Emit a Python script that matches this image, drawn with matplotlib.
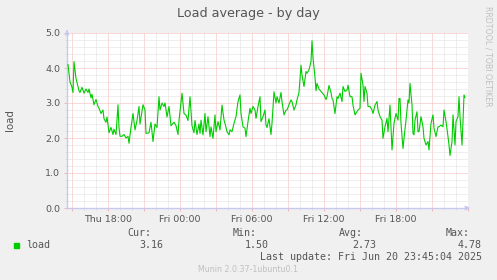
import matplotlib
matplotlib.use("Agg")
import matplotlib.pyplot as plt
import matplotlib.dates as mdates
from matplotlib.ticker import MultipleLocator, FuncFormatter
from matplotlib.patches import Rectangle
import pandas as pd

# data (minutes after Fri 00:00, load)
day_start = pd.Timestamp("2025-06-20 00:00")
minutes = [
    -560, -550, -540, -535, -530, -520, -505, -500, -490, -480,
    -470, -460, -455, -445, -440, -430, -420, -410, -405, -395,
    -385, -380, -370, -365, -355, -345, -335, -330, -320, -310,
    -305, -300, -290, -280, -270, -260, -255, -245, -235, -225,
    -215, -205, -200, -185, -175, -170, -155, -145, -135, -125,
    -115, -105, -100, -90, -80, -75, -65, -55, -45, -30,
    -20, -10, -5, 10, 20, 30, 40, 50, 60, 70,
    75, 85, 95, 100, 105, 115, 125, 130, 140, 150,
    155, 165, 175, 180, 190, 200, 210, 220, 225, 235,
    245, 250, 260, 270, 280, 290, 300, 305, 315, 325,
    330, 340, 350, 355, 365, 375, 380, 390, 400, 405,
    415, 425, 430, 435, 445, 455, 460, 470, 480, 485,
    495, 505, 510, 520, 530, 535, 545, 555, 560, 570,
    580, 585, 595, 605, 610, 620, 630, 635, 645, 655,
    660, 665, 675, 680, 685, 695, 705, 710, 720, 730,
    735, 745, 755, 760, 765, 775, 785, 790, 800, 810,
    815, 825, 835, 840, 850, 860, 865, 875, 885, 890,
    900, 905, 915, 920, 925, 935, 940, 950, 960, 965,
    975, 985, 990, 1000, 1010, 1015, 1025, 1035, 1040, 1050,
    1060, 1065, 1070, 1080, 1090, 1095, 1100, 1105, 1115, 1120,
    1130, 1140, 1145, 1150, 1160, 1165, 1170, 1175, 1185, 1190,
    1195, 1205, 1215, 1220, 1230, 1240, 1245, 1255, 1265, 1270,
    1280, 1290, 1295, 1305, 1315, 1320, 1330, 1340, 1345, 1350,
    1360, 1365, 1375, 1380, 1390, 1395, 1400, 1410, 1415, 1420,
    1425,
]
loads = [
    4.10, 3.60, 3.45, 3.30, 4.18, 3.70, 3.35, 3.30, 3.45, 3.28,
    3.40, 3.30, 3.40, 3.15, 3.25, 2.95, 3.10, 2.90, 2.85, 2.70,
    2.80, 2.55, 2.45, 2.60, 2.15, 2.30, 2.10, 2.25, 2.10, 2.95,
    2.30, 2.05, 2.05, 2.10, 2.00, 2.05, 1.85, 2.30, 2.70, 2.23,
    2.50, 2.90, 2.40, 2.95, 2.80, 2.13, 2.15, 2.45, 1.90, 2.40,
    2.30, 3.18, 2.80, 3.00, 2.90, 3.00, 2.60, 2.90, 2.35, 2.45,
    2.35, 2.10, 2.50, 3.28, 2.70, 2.65, 2.50, 3.18, 2.35, 2.15,
    2.50, 2.10, 2.40, 2.13, 2.51, 2.09, 2.70, 2.18, 2.61, 2.04,
    2.32, 1.99, 2.66, 2.18, 2.47, 2.23, 2.94, 2.51, 2.42, 2.18,
    2.09, 2.23, 2.18, 2.42, 2.61, 3.04, 3.23, 2.70, 2.32, 2.28,
    2.04, 2.47, 2.85, 2.70, 2.90, 2.80, 2.56, 2.90, 3.18, 2.47,
    2.61, 2.80, 2.37, 2.30, 2.55, 2.10, 2.42, 3.32, 3.00, 3.18,
    3.00, 3.30, 3.04, 2.66, 2.80, 2.80, 2.95, 3.09, 3.04, 2.80,
    2.95, 3.09, 3.30, 4.08, 3.80, 3.47, 3.90, 3.85, 3.95, 4.18,
    4.78, 4.30, 3.73, 3.35, 3.56, 3.40, 3.33, 3.30, 3.23, 3.10,
    3.18, 3.50, 3.30, 3.13, 3.09, 2.70, 3.18, 3.13, 3.28, 3.04,
    3.47, 3.33, 3.37, 3.51, 3.18, 3.18, 2.94, 2.66, 2.75, 2.80,
    2.85, 3.85, 3.51, 3.04, 3.47, 3.28, 2.90, 2.90, 2.80, 2.70,
    2.94, 3.04, 2.80, 2.61, 2.51, 1.99, 2.32, 2.56, 2.18, 2.94,
    1.66, 2.04, 2.42, 2.70, 2.51, 3.13, 3.13, 2.42, 1.70, 1.99,
    2.51, 3.09, 3.00, 3.56, 2.94, 2.13, 2.09, 2.51, 2.75, 2.18,
    2.18, 2.61, 2.32, 1.99, 1.80, 1.90, 1.66, 2.42, 2.66, 2.28,
    2.04, 2.32, 2.32, 2.37, 2.32, 2.80, 2.47, 2.04, 1.80, 1.50,
    1.90, 2.66, 1.80, 2.47, 2.61, 3.18, 2.61, 1.80, 2.47, 3.23,
    3.16,
]
stat_names = ["Cur:", "Min:", "Avg:", "Max:"]
stat_values = ["3.16", "1.50", "2.73", "4.78"]
series_name = "load"
last_update = "Last update: Fri Jun 20 23:45:04 2025"

times = [(day_start + pd.Timedelta(minutes=m)).to_pydatetime() for m in minutes]

W, H = 497, 280
TXT = "#555555"
LIGHT = "#C0C0C0"
AXBLUE = "#C8C8F0"
GREEN = "#00CC00"
MGRID = "#F6B4B4"
GRID = "#DEDEDE"

fig = plt.figure(figsize=(W / 100, H / 100), dpi=100, facecolor="#F0F0F0")

def fx(x):
    return x / W

def fy(y):
    return 1 - y / H

ax = fig.add_axes([fx(67), fy(208), 401 / W, 175 / H])
ax.set_facecolor("white")
ax.plot(times, loads, color=GREEN, lw=0.8, zorder=3)

x_end = (day_start + pd.Timedelta(hours=24)).to_pydatetime()
ax.set_xlim((day_start - pd.Timedelta(minutes=565)).to_pydatetime(), x_end)
ax.set_ylim(0, 5)

def fmt_time(v, pos):
    d = mdates.num2date(v)
    if d.hour % 6 != 0 or v >= mdates.date2num(x_end) - 1e-6:
        return ""
    return d.strftime("%a %H:%M")

ax.xaxis.set_major_locator(mdates.HourLocator(byhour=range(0, 24, 3)))
ax.xaxis.set_minor_locator(mdates.HourLocator())
ax.xaxis.set_major_formatter(FuncFormatter(fmt_time))
ax.yaxis.set_major_locator(MultipleLocator(1))
ax.yaxis.set_minor_locator(MultipleLocator(0.2))
ax.yaxis.set_major_formatter(FuncFormatter(lambda v, p: f"{v:.1f}"))

ax.grid(which="major", color=MGRID, lw=0.72, ls=(0, (1, 1)), zorder=1)
ax.grid(which="minor", color=GRID, lw=0.72, ls=(0, (1, 1)), zorder=0.9)

ax.tick_params(which="major", length=2, width=0.7, color=MGRID,
               labelsize=6.8, labelcolor=TXT, pad=3)
ax.tick_params(which="minor", length=1.5, width=0.7, color=GRID)

for s in ("top", "right"):
    ax.spines[s].set_visible(False)
for s in ("left", "bottom"):
    ax.spines[s].set_color(AXBLUE)
    ax.spines[s].set_linewidth(1)

# axis arrows
ax.annotate("", xy=(0, 1 + 6 / 175), xytext=(0, 0.99), xycoords="axes fraction",
            arrowprops=dict(arrowstyle="-|>", color=AXBLUE, lw=1, mutation_scale=6),
            annotation_clip=False)
ax.annotate("", xy=(1 + 5 / 401, 0), xytext=(0.99, 0), xycoords="axes fraction",
            arrowprops=dict(arrowstyle="-|>", color=AXBLUE, lw=1, mutation_scale=6),
            annotation_clip=False)

fig.text(fx(248), fy(13), "Load average - by day", ha="center", va="center",
         size=9.2, color=TXT)
fig.text(fx(10), fy(120), "load", rotation=90, ha="center", va="center",
         size=7.4, color=TXT)
fig.text(fx(488), fy(56), "RRDTOOL / TOBI OETIKER", rotation=270, ha="center",
         va="center", size=5.7, color=LIGHT)

# legend block
mono = dict(family="DejaVu Sans Mono", size=7.2, color=TXT)
head_x = [151, 257, 363, 470]
val_x = [163, 269, 376, 482]
for name, x in zip(stat_names, head_x):
    fig.text(fx(x), fy(233), name, ha="right", va="center", **mono)
for val, x in zip(stat_values, val_x):
    fig.text(fx(x), fy(244.5), val, ha="right", va="center", **mono)
fig.patches.append(Rectangle((fx(14), fy(247.5)), 5 / W, 5 / H,
                             transform=fig.transFigure, color=GREEN))
fig.text(fx(26.5), fy(244.5), series_name, ha="left", va="center", **mono)
fig.text(fx(482), fy(256.5), last_update, ha="right", va="center", **mono)
fig.text(fx(248), fy(269), "Munin 2.0.37-1ubuntu0.1", ha="center", va="center",
         size=5.7, color=LIGHT)

fig.savefig("out.png", dpi=100, facecolor=fig.get_facecolor())
